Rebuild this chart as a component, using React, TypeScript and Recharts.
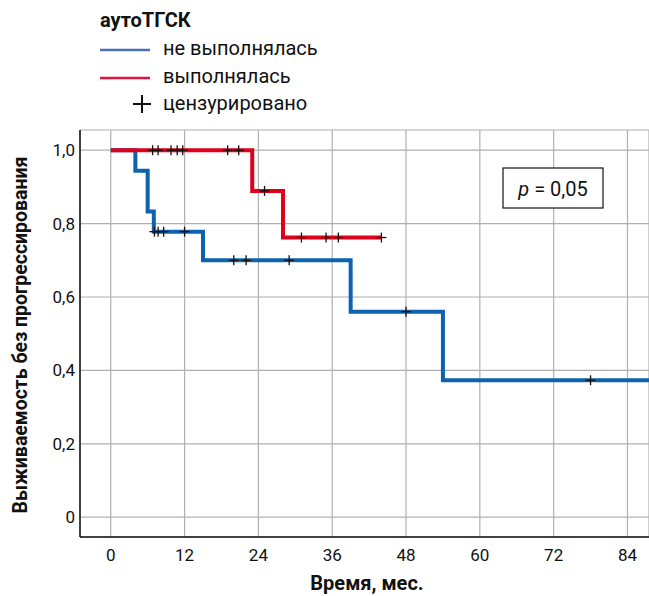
import { CartesianGrid, ComposedChart, Line, Scatter, XAxis, YAxis } from 'recharts'

// не выполнялась (blue)
const blueEventTimes = [0, 4, 6, 7, 15, 39, 54]
const blueEventSurv = [1, 0.944, 0.833, 0.778, 0.7, 0.56, 0.373]
const blueCensorTimes = [7.1, 7.7, 8.6, 12, 20, 22, 29, 48, 78]
const blueLastTime = 87.5

// выполнялась (red)
const redEventTimes = [0, 23, 28]
const redEventSurv = [1, 0.889, 0.762]
const redCensorTimes = [6.8, 7.7, 9.8, 10.8, 11.7, 19, 20.8, 25, 31, 35, 37, 44]
const redLastTime = 44

const xTicks = [0, 12, 24, 36, 48, 60, 72, 84]
const yTicks = [0, 0.2, 0.4, 0.6, 0.8, 1]

const FONT = 'Roboto, "Noto Sans", sans-serif'
const BLUE = '#0e63ae'
const RED = '#e1001b'

function survAt(times: number[], surv: number[], t: number) {
  let s = surv[0]
  for (let i = 0; i < times.length; i++) if (times[i] <= t) s = surv[i]
  return s
}

function buildLine(times: number[], surv: number[], censors: number[], last: number) {
  const pts = times.map((t, i) => ({ t, s: surv[i] }))
  censors.forEach((t) => pts.push({ t, s: survAt(times, surv, t) }))
  pts.push({ t: last, s: survAt(times, surv, last) })
  return pts.sort((a, b) => a.t - b.t)
}

function buildCensors(times: number[], surv: number[], censors: number[]) {
  return censors.map((t) => ({ t, s: survAt(times, surv, t) }))
}

const blueLine = buildLine(blueEventTimes, blueEventSurv, blueCensorTimes, blueLastTime)
const redLine = buildLine(redEventTimes, redEventSurv, redCensorTimes, redLastTime)
const blueCens = buildCensors(blueEventTimes, blueEventSurv, blueCensorTimes)
const redCens = buildCensors(redEventTimes, redEventSurv, redCensorTimes)

const Plus = (props: any) => {
  const { cx, cy } = props
  if (cx == null || cy == null) return null
  return (
    <g stroke="#111" strokeWidth={1.3}>
      <line x1={cx - 5} x2={cx + 5} y1={cy} y2={cy} />
      <line x1={cx} x2={cx} y1={cy - 5} y2={cy + 5} />
    </g>
  )
}

const fmtY = (v: number) => (v === 0 ? '0' : v.toFixed(1).replace('.', ','))

export default function App() {
  return (
    <div style={{ position: 'absolute', left: 0, top: 0, width: 649, height: 596, background: '#fff', fontFamily: FONT }}>
      <ComposedChart width={649} height={596} margin={{ top: 130, right: 0, bottom: 0, left: 0 }}>
        <CartesianGrid stroke="#b0b0b0" strokeWidth={1.2} />
        <XAxis
          type="number"
          dataKey="t"
          domain={[-5, 87.5]}
          ticks={xTicks}
          allowDataOverflow
          height={59}
          tickLine={false}
          tickSize={0}
          tickMargin={12}
          axisLine={{ stroke: '#111', strokeWidth: 1.5 }}
          tick={{ fill: '#111', fontSize: 17, fontFamily: FONT }}
        />
        <YAxis
          type="number"
          dataKey="s"
          domain={[-0.054, 1.055]}
          ticks={yTicks}
          allowDataOverflow
          width={80}
          tickLine={false}
          tickSize={0}
          tickMargin={5}
          tickFormatter={fmtY}
          axisLine={{ stroke: '#111', strokeWidth: 1.5 }}
          tick={{ fill: '#111', fontSize: 17, fontFamily: FONT }}
        />
        <Line data={blueLine} dataKey="s" type="stepAfter" stroke={BLUE} strokeWidth={4} dot={false} activeDot={false} isAnimationActive={false} />
        <Line data={redLine} dataKey="s" type="stepAfter" stroke={RED} strokeWidth={4} dot={false} activeDot={false} isAnimationActive={false} />
        <Scatter data={blueCens} dataKey="s" shape={Plus} isAnimationActive={false} />
        <Scatter data={redCens} dataKey="s" shape={Plus} isAnimationActive={false} />
      </ComposedChart>
      <svg width={649} height={596} style={{ position: 'absolute', left: 0, top: 0, pointerEvents: 'none' }}>
        <text x={100} y={20} dominantBaseline="central" fontSize={20} fontWeight={700} fill="#111" fontFamily={FONT}>аутоТГСК</text>
        <line x1={100} x2={150} y1={50} y2={50} stroke="#4a70b6" strokeWidth={2.5} />
        <text x={163} y={48} dominantBaseline="central" fontSize={20} fill="#111" fontFamily={FONT}>не выполнялась</text>
        <line x1={100} x2={150} y1={78} y2={78} stroke="#e2133c" strokeWidth={2.5} />
        <text x={163} y={76} dominantBaseline="central" fontSize={20} fill="#111" fontFamily={FONT}>выполнялась</text>
        <g stroke="#111" strokeWidth={2}>
          <line x1={133} x2={151} y1={104} y2={104} />
          <line x1={142} x2={142} y1={95} y2={113} />
        </g>
        <text x={163} y={103} dominantBaseline="central" fontSize={20} fill="#111" fontFamily={FONT}>цензурировано</text>
        <rect x={503} y={168} width={100} height={40} fill="#fff" stroke="#111" strokeWidth={1.2} />
        <text x={553} y={189} textAnchor="middle" dominantBaseline="central" fontSize={20} fill="#111" fontFamily={FONT}>
          <tspan fontStyle="italic">p</tspan> = 0,05
        </text>
        <text
          x={20}
          y={335}
          transform="rotate(-90 20 335)"
          textAnchor="middle"
          dominantBaseline="central"
          fontSize={19.5}
          fontWeight={700}
          fill="#111"
          fontFamily={FONT}
        >
          Выживаемость без прогрессирования
        </text>
        <text x={367} y={583} textAnchor="middle" dominantBaseline="central" fontSize={20} fontWeight={700} fill="#111" fontFamily={FONT}>
          Время, мес.
        </text>
      </svg>
    </div>
  )
}
